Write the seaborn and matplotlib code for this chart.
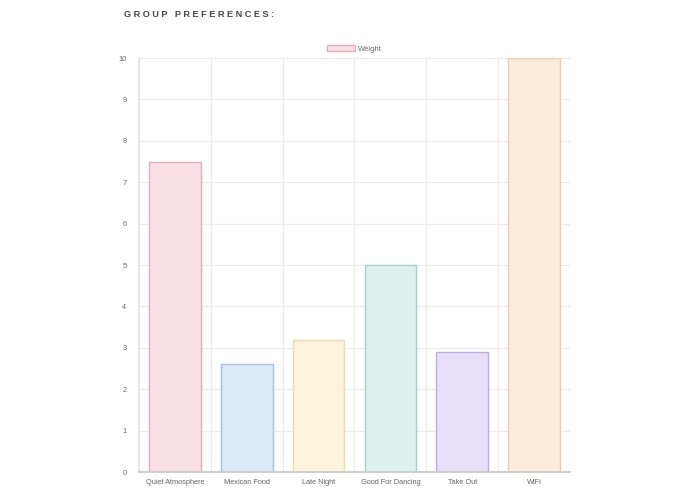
import matplotlib
matplotlib.use("Agg")
import matplotlib.pyplot as plt
from matplotlib.patches import Patch
import seaborn as sns
import pandas as pd

# -----------------------------
# Data
# -----------------------------
categories = ["Quiet Atmosphere", "Mexican Food", "Late Night",
              "Good For Dancing", "Take Out", "WiFi"]
weights = [7.5, 2.6, 3.2, 5.0, 2.9, 10.0]
fill_colors = ["#f9e0e6", "#dce9f9", "#fdf3dd", "#e0f0f0", "#e7dff9", "#fcecdc"]
edge_colors = ["#e0adba", "#a8bfda", "#eddcb0", "#abcdcd", "#bcaae0", "#eccdaa"]
y_ticks = list(range(0, 11))

df = pd.DataFrame({"category": categories, "weight": weights})

# -----------------------------
# Plot
# -----------------------------
sns.set_theme(style="white")
plt.rcParams["font.family"] = ["Liberation Sans", "DejaVu Sans"]

fig = plt.figure(figsize=(6.95, 4.94), dpi=100)
ax = fig.add_axes([0.2, 0.0445, 0.62, 0.838])

sns.barplot(data=df, x="category", y="weight", hue="category",
            palette=fill_colors, saturation=1, width=0.72, legend=False, ax=ax)
for bar, ec in zip(ax.patches, edge_colors):
    bar.set_edgecolor(ec)
    bar.set_linewidth(1.0)

ax.set_xlim(-0.5, len(categories) - 0.5)
ax.set_ylim(0, 10)
ax.set_yticks(y_ticks)
ax.set_xlabel("")
ax.set_ylabel("")

# grid: horizontal at each integer, vertical at category boundaries
ax.set_xticks([i - 0.5 for i in range(len(categories) + 1)], minor=True)
ax.grid(axis="y", color="#ebebeb", linewidth=0.8)
ax.grid(axis="x", which="minor", color="#ebebeb", linewidth=0.8)
ax.set_axisbelow(True)

for side in ["top", "right"]:
    ax.spines[side].set_visible(False)
ax.spines["left"].set_color("#e6e6e6")
ax.spines["bottom"].set_color("#c8c8c8")

ax.tick_params(axis="x", which="major", length=0, labelsize=5.3, labelcolor="#666666", pad=5)
ax.tick_params(axis="x", which="minor", length=5, color="#e6e6e6")
ax.tick_params(axis="y", length=5, color="#e6e6e6", labelsize=5.3, labelcolor="#666666", pad=4)

handle = Patch(facecolor=fill_colors[0], edgecolor=edge_colors[0], linewidth=1.0)
ax.legend([handle], ["Weight"], loc="lower center", bbox_to_anchor=(0.5, 1.0),
          frameon=False, fontsize=5.5, handlelength=3.6, handleheight=1.0,
          handletextpad=0.4, borderaxespad=0.3, labelcolor="#666666")

title = "   ".join([" ".join("GROUP"), " ".join("PREFERENCES:")])
fig.text(0.178, 0.971, title, fontsize=6.6, fontweight="heavy",
         color="#444444", va="center", ha="left")

fig.savefig("out.png", dpi=100, facecolor="white")
plt.close(fig)
